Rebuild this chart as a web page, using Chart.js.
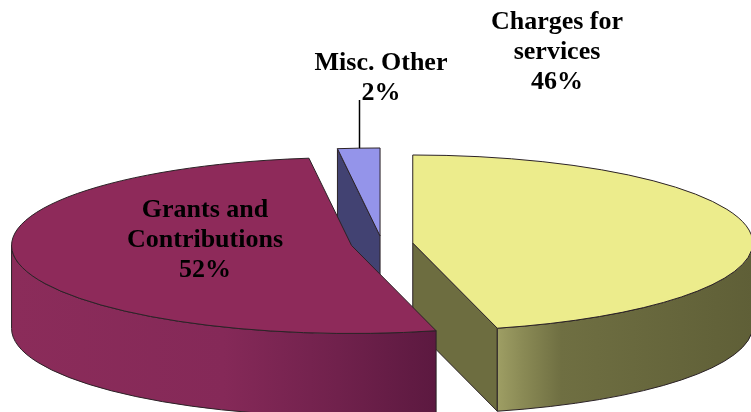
<!DOCTYPE html>
<html>
<head>
<meta charset="utf-8">
<title>Revenue sources</title>
<script src="https://cdn.jsdelivr.net/npm/chart.js@4.4.1/dist/chart.umd.min.js"></script>
<style>
    html, body { margin: 0; padding: 0; background: #ffffff; }
    #wrap { width: 751px; height: 412px; }
</style>
</head>
<body>
<div id="wrap"><canvas id="pieChart" width="751" height="412"></canvas></div>
<script>
// Chart data
const categories = ['Charges for services', 'Grants and Contributions', 'Misc. Other'];
const values = [46, 52, 2];
const labelLines = [['Charges for', 'services'], ['Grants and', 'Contributions'], ['Misc. Other']];

// Slice colours: top face, cut face, outer wall gradient stops
const topColors = ['#ecec8c', '#8e2a5a', '#9494ea'];
const cutColors = ['#6d6d40', '#5e1a42', '#424272'];
const wallStops = [
    [[0, '#9e9e64'], [0.1, '#8a8a55'], [0.25, '#6f6f42'], [1, '#5f5f37']],
    [[0, '#8b2c5a'], [0.5, '#852958'], [0.77, '#70214c'], [1, '#5c1940']],
    [[0, '#55558a'], [1, '#3a3a66']]
];

// 3D look
const STRETCH_X = 340 / 168;
const STRETCH_Y = 88 / 168;
const DEPTH = 83;
const EXPLODE = 31;
const EDGE = '#2b2226';
const FONT = 'bold 26px "Liberation Serif", "Times New Roman", serif';
const LINE_H = 30;
const labelPos = [{ x: 557, y: 29 }, { x: 205, y: 217 }, { x: 381, y: 70 }];

document.addEventListener('DOMContentLoaded', () => {
    desenharGrafico();
});

// Point on a slice ellipse
function ponto(s, a, dy) {
    return [s.x + s.rx * Math.cos(a), s.y + s.ry * Math.sin(a) + (dy || 0)];
}

// Flat radial face under one slice edge
function desenharCorte(ctx, s, a) {
    const p = ponto(s, a);
    ctx.beginPath();
    ctx.moveTo(s.x, s.y);
    ctx.lineTo(p[0], p[1]);
    ctx.lineTo(p[0], p[1] + DEPTH);
    ctx.lineTo(s.x, s.y + DEPTH);
    ctx.closePath();
    ctx.fillStyle = cutColors[s.i];
    ctx.fill();
    ctx.stroke();
}

// Curved outer wall between two angles (front half only)
function desenharParede(ctx, s, lo, hi) {
    const xr = ponto(s, lo)[0];
    const xl = ponto(s, hi)[0];
    const grad = ctx.createLinearGradient(xl, 0, xr, 0);
    wallStops[s.i].forEach(st => grad.addColorStop(st[0], st[1]));
    ctx.beginPath();
    ctx.ellipse(s.x, s.y, s.rx, s.ry, 0, lo, hi);
    ctx.ellipse(s.x, s.y + DEPTH, s.rx, s.ry, 0, hi, lo, true);
    ctx.closePath();
    ctx.fillStyle = grad;
    ctx.fill();
    ctx.stroke();
}

function desenharFatia(ctx, s) {
    ctx.save();
    ctx.lineWidth = 1;
    ctx.strokeStyle = EDGE;
    ctx.lineJoin = 'round';

    if (Math.cos(s.a0) < -1e-6) desenharCorte(ctx, s, s.a0);
    if (Math.cos(s.a1) > 1e-6) desenharCorte(ctx, s, s.a1);

    [0, 2 * Math.PI].forEach(base => {
        const lo = Math.max(s.a0, base);
        const hi = Math.min(s.a1, base + Math.PI);
        if (hi > lo) desenharParede(ctx, s, lo, hi);
    });

    ctx.beginPath();
    ctx.moveTo(s.x, s.y);
    ctx.ellipse(s.x, s.y, s.rx, s.ry, 0, s.a0, s.a1);
    ctx.closePath();
    ctx.fillStyle = topColors[s.i];
    ctx.fill();
    ctx.stroke();
    ctx.restore();
}

const pie3d = {
    id: 'pie3d',
    beforeDatasetsDraw(chart) {
        const ctx = chart.ctx;
        const arcs = chart.getDatasetMeta(0).data;
        const fatias = arcs.map((arc, i) => {
            const mid = (arc.startAngle + arc.endAngle) / 2;
            const rx = arc.outerRadius * STRETCH_X;
            const ry = arc.outerRadius * STRETCH_Y;
            return {
                i, mid, rx, ry,
                a0: arc.startAngle,
                a1: arc.endAngle,
                x: arc.x + EXPLODE * Math.cos(mid),
                y: arc.y + EXPLODE * (ry / rx) * Math.sin(mid)
            };
        });
        chart.$fatias = fatias.slice();
        // back slices first
        fatias.sort((a, b) => Math.sin(a.mid) - Math.sin(b.mid));
        fatias.forEach(s => desenharFatia(ctx, s));
        return false;
    },
    afterDraw(chart) {
        const ctx = chart.ctx;
        const total = values.reduce((a, b) => a + b, 0);
        ctx.save();
        ctx.font = FONT;
        ctx.fillStyle = '#000000';
        ctx.textAlign = 'center';
        ctx.textBaseline = 'alphabetic';
        categories.forEach((c, i) => {
            const linhas = labelLines[i].concat([Math.round(values[i] / total * 100) + '%']);
            linhas.forEach((t, k) => {
                ctx.fillText(t, labelPos[i].x, labelPos[i].y + k * LINE_H);
            });
        });
        // leader line for the small slice
        const s = chart.$fatias[2];
        const p = ponto(s, s.mid);
        ctx.strokeStyle = '#000000';
        ctx.lineWidth = 1.5;
        ctx.beginPath();
        ctx.moveTo(Math.round(p[0]) + 0.5, p[1]);
        ctx.lineTo(Math.round(p[0]) + 0.5, labelPos[2].y + LINE_H);
        ctx.stroke();
        ctx.restore();
    }
};

function desenharGrafico() {
    const ctx = document.getElementById('pieChart').getContext('2d');
    new Chart(ctx, {
        type: 'pie',
        data: {
            labels: categories,
            datasets: [{
                data: values,
                backgroundColor: topColors,
                borderWidth: 0,
                clip: false
            }]
        },
        options: {
            responsive: false,
            animation: false,
            events: [],
            layout: { padding: { left: 13, top: 76 } },
            plugins: {
                legend: { display: false },
                tooltip: { enabled: false }
            }
        },
        plugins: [pie3d]
    });
}
</script>
</body>
</html>
